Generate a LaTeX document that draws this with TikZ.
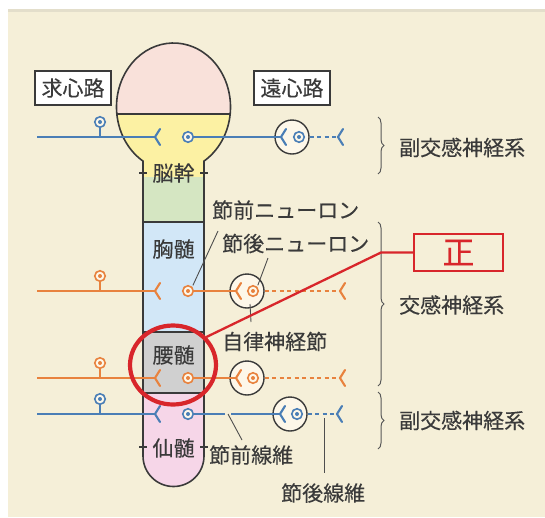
\documentclass[tikz,border=0pt]{standalone}
\usepackage{fontspec}
\setmainfont{Noto Sans CJK JP}[FakeBold=0.3]
\usetikzlibrary{decorations.pathreplacing,shapes.geometric,calc}
\definecolor{bgc}{HTML}{F5EFD8}
\definecolor{headc}{HTML}{F9E1DA}
\definecolor{yelc}{HTML}{FCF1A3}
\definecolor{grnc}{HTML}{D5E6C2}
\definecolor{bluf}{HTML}{D2E7F7}
\definecolor{gryc}{HTML}{D0D0D0}
\definecolor{pnkc}{HTML}{F6D6E8}
\definecolor{nblue}{HTML}{4A7EB6}
\definecolor{norange}{HTML}{E8823E}
\definecolor{redc}{HTML}{D8262B}
\definecolor{inkc}{HTML}{3A3A3A}
\definecolor{somaf}{HTML}{FDF7E9}
\begin{document}
\begin{tikzpicture}[x=1pt,y=-1pt,
  txt/.style={font=\fontsize{21}{24}\selectfont, text=inkc, inner sep=0pt},
  nerve/.style={line width=2.1pt},
  soma/.style={circle, draw=#1, fill=somaf, line width=1.6pt, minimum size=10.5pt, inner sep=0pt,
    path picture={\fill[#1] (path picture bounding box.center) circle (2pt);}},
  gang/.style={circle, draw=inkc, fill=somaf, line width=1.4pt, minimum size=34pt, inner sep=0pt},
  lead/.style={draw=inkc!90, line width=0.9pt},
  brc/.style={draw=inkc!85, line width=1pt, decorate, decoration={brace, amplitude=6pt}},
  lbox/.style={txt, draw=inkc, line width=1.3pt, fill=white, minimum width=76pt, minimum height=34pt},
  dots/.style={nerve, dash pattern=on 4pt off 3.5pt},
  fork/.pic={\draw[line width=2.1pt, line cap=round, line join=miter] (5,-8) -- (0,0) -- (5,8);}
]
\useasboundingbox (0,0) rectangle (545,517);
\fill[white] (0,0) rectangle (545,517);
\fill[bgc!85!gray] (8,9) rectangle (545,12);
\fill[bgc] (8,12) rectangle (545,517);

% spinal column
\begin{scope}
\clip (143,161.07) arc[start angle=122.35, end angle=417.65, x radius=57, y radius=64]
  -- (204,456) arc[start angle=0, end angle=180, radius=30.5] -- cycle;
\fill[headc] (100,30) rectangle (250,114);
\fill[yelc] (100,114) rectangle (250,177);
\fill[grnc] (100,177) rectangle (250,222);
\fill[bluf] (100,222) rectangle (250,332);
\fill[gryc] (100,332) rectangle (250,393);
\fill[pnkc] (100,393) rectangle (250,500);
\draw[inkc, line width=1.5pt] (100,114) -- (250,114) (100,222) -- (250,222)
  (100,332) -- (250,332) (100,393) -- (250,393);
\end{scope}
\draw[inkc, line width=1.6pt] (143,161.07) arc[start angle=122.35, end angle=417.65, x radius=57, y radius=64]
  -- (204,456) arc[start angle=0, end angle=180, radius=30.5] -- cycle;
\draw[inkc, line width=1.3pt] (139,173)--(147,173) (200,173)--(208,173)
  (139,447)--(147,447) (200,447)--(208,447);

\node[txt] (nokan) at (173.5,173) {脳幹};
\node[txt] (kyozui) at (173.5,249) {胸髄};
\node[txt] (yozui) at (173.5,355) {腰髄};
\node[txt] (senzui) at (173.5,448) {仙髄};

\node[lbox] (kyushin) at (73,88) {求心路};
\node[lbox] (enshin) at (292,88) {遠心路};

% row 1 (parasympathetic, brain stem)
\coordinate (a1) at (37,137);
\coordinate (v1) at (155,137);
\node[soma=nblue] (s1) at (100,122) {};
\draw[nerve, nblue] (a1) -- (v1);
\draw[nerve, nblue] (s1) -- (s1 |- a1);
\pic[nblue] at (v1) {fork};
\node[gang] (g1) at (292,137) {};
\coordinate (w1) at (281,137);
\node[soma=nblue] (p1) at (188,137) {};
\draw[nerve, nblue] (p1) -- (w1);
\pic[nblue] at (w1) {fork};
\node[soma=nblue] (q1) at (299,137) {};
\coordinate (e1) at (338,137);
\draw[dots, nblue] (g1.east) -- (e1);
\pic[nblue] at (e1) {fork};

% row 2 (sympathetic, thoracic)
\coordinate (a2) at (37,291);
\coordinate (v2) at (155,291);
\node[soma=norange] (s2) at (100,276) {};
\draw[nerve, norange] (a2) -- (v2);
\draw[nerve, norange] (s2) -- (s2 |- a2);
\pic[norange] at (v2) {fork};
\node[gang] (g2) at (247,291) {};
\coordinate (w2) at (236,291);
\node[soma=norange] (p2) at (188,291) {};
\draw[nerve, norange] (p2) -- (w2);
\pic[norange] at (w2) {fork};
\node[soma=norange] (q2) at (253,291) {};
\coordinate (e2) at (340,291);
\draw[dots, norange] (g2.east) -- (e2);
\pic[norange] at (e2) {fork};

% row 3 (sympathetic, lumbar)
\coordinate (a3) at (37,378);
\coordinate (v3) at (155,378);
\node[soma=norange] (s3) at (100,363) {};
\draw[nerve, norange] (a3) -- (v3);
\draw[nerve, norange] (s3) -- (s3 |- a3);
\pic[norange] at (v3) {fork};
\node[gang] (g3) at (247,378) {};
\coordinate (w3) at (236,378);
\node[soma=norange] (p3) at (188,378) {};
\draw[nerve, norange] (p3) -- (w3);
\pic[norange] at (w3) {fork};
\node[soma=norange] (q3) at (253,378) {};
\coordinate (e3) at (340,378);
\draw[dots, norange] (g3.east) -- (e3);
\pic[norange] at (e3) {fork};

% row 4 (parasympathetic, sacral)
\coordinate (a4) at (37,414);
\coordinate (v4) at (155,414);
\node[soma=nblue] (s4) at (100,399) {};
\draw[nerve, nblue] (a4) -- (v4);
\draw[nerve, nblue] (s4) -- (s4 |- a4);
\pic[nblue] at (v4) {fork};
\node[gang] (g4) at (290,414) {};
\coordinate (w4) at (280,414);
\node[soma=nblue] (p4) at (188,414) {};
\coordinate (gapl) at (225,414);
\coordinate (gapr) at (231,414);
\coordinate (gapm) at (228,414);
\draw[nerve, nblue] (p4) -- (gapl);
\draw[nerve, nblue] (gapr) -- (w4);
\pic[nblue] at (w4) {fork};
\node[soma=nblue] (q4) at (297,414) {};
\coordinate (e4) at (337,414);
\draw[dots, nblue] (g4.east) -- (e4);
\pic[nblue] at (e4) {fork};

% labels
\node[txt, anchor=west] (zenneu) at (212,210) {節前ニューロン};
\node[txt, anchor=west] (goneu) at (222,243.5) {節後ニューロン};
\node[txt, anchor=west] (jiritsu) at (222,341.5) {自律神経節};
\node[txt, anchor=west] (zensen) at (209,455) {節前線維};
\node[txt, anchor=west] (gosen) at (281,493) {節後線維};
\node[txt, anchor=west] (fuku1) at (399,147.5) {副交感神経系};
\node[txt, anchor=west] (kou) at (399,305) {交感神経系};
\node[txt, anchor=west] (fuku2) at (399,420.5) {副交感神経系};

% leaders
\coordinate (l1) at (218,231);
\draw[lead, shorten >=1.5pt] (l1) -- (p2.north east);
\coordinate (l2) at (268,258);
\draw[lead, shorten >=1.5pt] (l2) -- (q2.north east);
\coordinate (l3a) at (250,304);
\coordinate (l3b) at (251,322);
\draw[lead] (l3a) -- (l3b);
\coordinate (l4) at (242,440);
\draw[lead] (gapm) -- (l4);
\coordinate (l5a) at (324,418);
\coordinate (l5b) at (324,473);
\draw[lead] (l5a) -- (l5b);

% braces
\draw[brc] (378,117) -- (378,174);
\draw[brc] (378,222) -- (378,386);
\draw[brc] (378,392) -- (378,449);

% red highlight
\node[ellipse, draw=redc, line width=4.2pt, minimum width=86pt, minimum height=79pt, inner sep=0pt] (ring) at (173,365) {};
\node[draw=redc, line width=2.2pt, minimum width=89pt, minimum height=37pt, inner sep=0pt,
  text=redc, font=\fontsize{32}{32}\selectfont, fill=bgc] (sei) at (458.5,252.5) {正};
\coordinate (bend) at (381,252.5);
\draw[redc, line width=2.3pt] (ring.40) -- (bend) -- (sei.west);
\end{tikzpicture}
\end{document}
